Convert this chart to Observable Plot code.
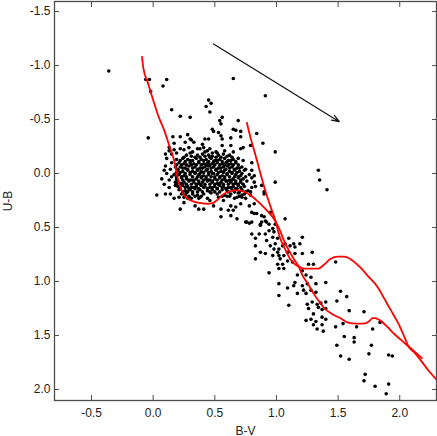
<!DOCTYPE html>
<html>
<head>
<meta charset="utf-8">
<script src="https://cdn.jsdelivr.net/npm/d3@7"></script>
<script src="https://cdn.jsdelivr.net/npm/@observablehq/plot@0.6"></script>
<style>
  html, body { margin: 0; padding: 0; background: #fff; }
  #chart { width: 437px; height: 436px; }
</style>
</head>
<body>
<div id="chart"></div>
<script>
// ---- Data (B-V, U-B) ----
const xTicks = [-0.5, 0.0, 0.5, 1.0, 1.5, 2.0];
const yTicks = [-1.5, -1.0, -0.5, 0.0, 0.5, 1.0, 1.5, 2.0];
const xLabel = "B-V";
const yLabel = "U-B";

// sparse stars in the upper part
const upperStars = [
  [-0.36,-0.95],[-0.06,-0.87],[-0.03,-0.87],[-0.02,-0.76],[-0.04,-0.33],[0.11,-0.87],[0.08,-0.81],[0.65,-0.88],[0.91,-0.72],
  [0.45,-0.68],[0.47,-0.65],[0.43,-0.62],[0.46,-0.57],[0.15,-0.59],[0.22,-0.53],[0.30,-0.52],
  [0.56,-0.52],[0.54,-0.49],[0.55,-0.46],[0.69,-0.49],
  [0.16,-0.34],[0.22,-0.34],[0.28,-0.36],[0.31,-0.31],[0.48,-0.41],[0.49,-0.39],[0.53,-0.38],[0.55,-0.35],[0.56,-0.32],
  [0.63,-0.33],[0.65,-0.41],[0.67,-0.40],[0.71,-0.39],[0.84,-0.37],[0.89,-0.28],[0.99,-0.20],
  [1.34,-0.03],[1.35,0.06],[1.41,0.15],
  [0.71,-0.34],[0.30,-0.32],[0.42,-0.32],[0.45,-0.32],[0.56,-0.26],[0.63,-0.26],[0.71,-0.23],[0.73,-0.24],[0.79,-0.26],
  [0.33,-0.29],[0.36,-0.23],[0.41,-0.24],[0.44,-0.21],[0.46,-0.23],[0.51,-0.20],[0.65,-0.20],[0.32,-0.20],[0.38,-0.23],[0.40,-0.27],
  [0.13,-0.24],[0.17,-0.28],[0.26,-0.29],[0.29,-0.24],[0.13,-0.21],[0.17,-0.22],[0.22,-0.23],[0.25,-0.22],
  [0.10,-0.18],[0.15,-0.18],[0.19,-0.19],
  [0.42,-0.20],[0.52,-0.19],[0.58,-0.21],[0.30,-0.19],[0.48,-0.19]
];

// stars left of the intrinsic line, around B-V 0.0-0.3
const leftStars = [
  [0.11,-0.14],[0.15,-0.10],[0.10,-0.07],[0.14,-0.04],[0.09,-0.03],[0.11,0.00],[0.07,0.05],[0.13,0.06],[0.15,0.03],
  [0.09,0.10],[0.13,0.13],[0.18,0.11],[0.03,0.20],[0.10,0.19],[0.14,0.19],[0.17,0.23],[0.21,0.22],[0.22,0.33],
  [0.25,0.27],[0.28,0.23]
];

// dense cluster core
const coreStars = [
  [0.27,-0.17],[0.31,-0.16],[0.36,-0.17],[0.40,-0.18],[0.45,-0.17],[0.48,-0.16],[0.53,-0.17],[0.57,-0.18],[0.62,-0.17],
  [0.19,-0.13],[0.24,-0.14],[0.28,-0.13],[0.32,-0.12],[0.35,-0.14],[0.39,-0.13],[0.43,-0.13],[0.47,-0.14],[0.50,-0.12],[0.54,-0.13],[0.58,-0.14],[0.61,-0.12],[0.65,-0.13],[0.69,-0.14],
  [0.21,-0.10],[0.25,-0.09],[0.30,-0.10],[0.33,-0.09],[0.37,-0.10],[0.41,-0.09],[0.44,-0.10],[0.48,-0.09],[0.52,-0.10],[0.56,-0.09],[0.59,-0.10],[0.63,-0.09],[0.67,-0.10],
  [0.18,-0.06],[0.22,-0.06],[0.26,-0.05],[0.29,-0.07],[0.34,-0.06],[0.38,-0.05],[0.42,-0.06],[0.45,-0.07],[0.49,-0.06],[0.53,-0.05],[0.57,-0.06],[0.60,-0.07],[0.64,-0.06],[0.68,-0.05],[0.72,-0.06],
  [0.20,-0.03],[0.24,-0.02],[0.28,-0.03],[0.32,-0.02],[0.36,-0.03],[0.39,-0.02],[0.43,-0.03],[0.47,-0.02],[0.51,-0.03],[0.55,-0.02],[0.58,-0.03],[0.62,-0.02],[0.66,-0.03],[0.70,-0.02],[0.74,-0.03],
  [0.17,0.01],[0.21,0.01],[0.25,0.02],[0.30,0.01],[0.34,0.00],[0.37,0.01],[0.41,0.02],[0.45,0.01],[0.48,0.00],[0.52,0.01],[0.56,0.02],[0.60,0.01],[0.64,0.00],[0.67,0.01],[0.71,0.02],[0.78,0.01],
  [0.19,0.05],[0.23,0.04],[0.27,0.05],[0.31,0.06],[0.35,0.05],[0.39,0.04],[0.43,0.05],[0.46,0.06],[0.50,0.05],[0.54,0.04],[0.58,0.05],[0.62,0.06],[0.65,0.05],[0.69,0.04],[0.73,0.05],
  [0.18,0.08],[0.22,0.09],[0.25,0.08],[0.29,0.07],[0.33,0.08],[0.37,0.09],[0.40,0.08],[0.44,0.07],[0.48,0.08],[0.52,0.09],[0.55,0.08],[0.59,0.07],[0.63,0.08],[0.67,0.09],[0.71,0.08],[0.76,0.07],
  [0.20,0.12],[0.24,0.11],[0.28,0.12],[0.31,0.13],[0.35,0.12],[0.39,0.11],[0.42,0.12],[0.46,0.13],[0.50,0.12],[0.54,0.11],[0.57,0.12],[0.61,0.13],[0.65,0.12],[0.69,0.11],[0.74,0.12],
  [0.21,0.15],[0.26,0.16],[0.30,0.15],[0.34,0.14],[0.38,0.15],[0.44,0.16],[0.48,0.15],[0.52,0.14],[0.56,0.15],[0.60,0.16],[0.64,0.15],[0.68,0.14],[0.72,0.15],[0.77,0.16],
  [0.23,0.19],[0.27,0.18],[0.32,0.19],[0.36,0.20],[0.41,0.19],[0.47,0.18],[0.52,0.19],[0.58,0.20],[0.63,0.19],[0.69,0.18],[0.74,0.19],
  [0.25,0.22],[0.31,0.23],[0.38,0.22],[0.44,0.23],[0.53,0.22],[0.60,0.21],[0.66,0.23],[0.72,0.22],
  [0.80,-0.03],[0.80,0.04],[0.82,0.08],[0.80,0.13],[0.83,0.12],[0.79,0.17]
];

// more core stars filling the gaps of the dense clump
const coreStars2 = [
  [0.25,-0.15],[0.34,-0.15],[0.38,-0.15],[0.42,-0.16],[0.46,-0.15],[0.51,-0.15],[0.55,-0.15],[0.60,-0.16],[0.64,-0.15],
  [0.22,-0.12],[0.26,-0.11],[0.30,-0.12],[0.37,-0.11],[0.41,-0.12],[0.45,-0.11],[0.49,-0.11],[0.52,-0.12],[0.56,-0.11],[0.60,-0.11],[0.63,-0.12],[0.67,-0.11],
  [0.19,-0.08],[0.23,-0.08],[0.27,-0.08],[0.31,-0.08],[0.35,-0.08],[0.39,-0.08],[0.43,-0.08],[0.46,-0.08],[0.50,-0.08],[0.54,-0.08],[0.58,-0.08],[0.61,-0.08],[0.65,-0.08],[0.69,-0.08],
  [0.20,-0.04],[0.24,-0.05],[0.28,-0.04],[0.32,-0.05],[0.36,-0.04],[0.40,-0.05],[0.44,-0.04],[0.47,-0.05],[0.51,-0.04],[0.55,-0.05],[0.59,-0.04],[0.62,-0.05],[0.66,-0.04],[0.70,-0.05],[0.75,-0.04],
  [0.19,-0.01],[0.22,-0.01],[0.26,0.00],[0.30,-0.01],[0.34,-0.01],[0.38,0.00],[0.41,-0.01],[0.45,-0.01],[0.49,0.00],[0.53,-0.01],[0.57,-0.01],[0.60,0.00],[0.64,-0.01],[0.68,-0.01],[0.72,0.00],
  [0.19,0.03],[0.23,0.03],[0.27,0.03],[0.32,0.03],[0.36,0.03],[0.39,0.03],[0.43,0.03],[0.47,0.03],[0.50,0.03],[0.54,0.03],[0.58,0.03],[0.62,0.03],[0.66,0.03],[0.69,0.03],[0.75,0.03],
  [0.20,0.07],[0.24,0.06],[0.29,0.06],[0.33,0.06],[0.37,0.07],[0.41,0.06],[0.45,0.06],[0.48,0.07],[0.52,0.06],[0.56,0.06],[0.60,0.07],[0.64,0.06],[0.67,0.07],[0.71,0.06],
  [0.19,0.10],[0.23,0.10],[0.27,0.10],[0.31,0.10],[0.35,0.10],[0.38,0.10],[0.42,0.10],[0.46,0.10],[0.50,0.10],[0.53,0.10],[0.57,0.10],[0.61,0.10],[0.65,0.10],[0.69,0.10],[0.73,0.10],
  [0.22,0.14],[0.26,0.13],[0.29,0.14],[0.33,0.13],[0.37,0.14],[0.41,0.13],[0.44,0.14],[0.48,0.13],[0.52,0.14],[0.56,0.13],[0.59,0.14],[0.63,0.13],[0.67,0.14],[0.71,0.13],
  [0.24,0.17],[0.28,0.17],[0.32,0.17],[0.36,0.17],[0.40,0.17],[0.46,0.17],[0.50,0.17],[0.54,0.17],[0.61,0.17],[0.66,0.17],[0.70,0.17],[0.75,0.17],
  [0.26,0.20],[0.29,0.21],[0.34,0.21],[0.39,0.21],[0.56,0.21],[0.62,0.21],[0.70,0.21]
];

// stars just below the intrinsic line in the core
const lowerCoreStars = [
  [0.34,0.30],[0.41,0.33],[0.49,0.30],[0.55,0.33],[0.63,0.30],[0.65,0.34],[0.71,0.28],[0.78,0.30],[0.80,0.36],
  [0.57,0.25],[0.46,0.25],[0.37,0.23],[0.68,0.22],[0.75,0.23],[0.79,0.20],[0.73,-0.12],[0.80,-0.10],[0.82,0.02],
  [0.37,0.33],[0.55,0.40],[0.63,0.39],[0.68,0.42],[0.82,0.37],[0.90,0.40]
];

// reddened tail toward the lower right
const tailStars = [
  [0.99,0.08],[0.88,0.11],[0.90,0.19],[0.82,0.28],[0.84,0.37],[0.95,0.36],[0.92,0.45],[0.99,0.47],[0.87,0.47],[0.75,0.45],
  [0.61,0.34],[0.67,0.31],[0.72,0.20],[0.88,0.39],[0.76,0.45],[0.78,0.46],[0.80,0.45],[0.88,0.45],[0.90,0.17],[0.91,0.44],
  [0.94,0.47],[0.87,0.48],[0.80,0.56],[0.83,0.60],[0.86,0.56],[0.91,0.56],[0.94,0.53],[0.97,0.51],[0.98,0.54],[1.07,0.42],
  [0.92,0.62],[0.97,0.59],[1.01,0.60],[0.99,0.65],[0.95,0.67],[0.98,0.70],[1.02,0.70],[1.05,0.67],[1.07,0.65],[1.10,0.60],
  [1.11,0.67],[1.14,0.65],[1.15,0.68],[1.19,0.65],[1.21,0.59],[0.83,0.67],[0.87,0.73],[0.91,0.74],[0.97,0.76],[1.01,0.73],
  [1.02,0.76],[1.06,0.76],[1.09,0.73],[1.15,0.74],[1.21,0.74],[1.29,0.73],[0.83,0.79],[1.03,0.79],
  [1.01,0.84],[1.05,0.84],[1.09,0.81],[1.13,0.82],[1.06,0.88],[0.94,0.92],[1.02,0.88],[1.26,0.84],[1.30,0.84],[1.21,0.90],
  [1.17,0.94],[1.24,0.94],[1.28,0.96],[1.02,1.02],[1.09,1.06],[1.14,1.04],[1.15,1.01],[1.21,1.04],[1.25,1.02],[1.32,1.02],
  [1.40,1.01],[1.22,1.08],[1.24,1.11],[1.28,1.08],[1.17,1.11],[1.02,1.13],[1.32,1.10],[1.25,1.21],[1.29,1.19],[1.33,1.21],
  [1.10,1.22],[1.26,1.25],[1.34,1.24],[1.37,1.26],[1.40,1.25],[1.30,1.30],[1.37,1.33],[1.24,1.36],[1.28,1.35],[1.40,1.35],
  [1.36,1.20],[1.40,1.19],[1.32,1.37],[1.30,1.40],[1.33,1.44],[1.37,1.40],[1.38,1.46],[1.49,1.18],[1.48,0.82],[1.59,1.27],
  [1.71,1.28],[1.48,1.42],[1.54,1.39],[1.65,1.42],[1.78,1.44],[1.84,1.38],[1.49,1.59],[1.55,1.51],[1.63,1.52],[1.63,1.56],
  [1.77,1.59],[1.52,1.69],[1.59,1.72],[1.75,1.67],[1.91,1.68],[1.94,1.69],[1.72,1.86],[1.71,1.92],[1.80,1.97],[1.91,1.95],
  [1.89,2.04],[1.52,1.09],[1.57,1.14]
];

// red reference curves
const curveA = [
  [-0.09,-1.08],[-0.08,-0.98],[-0.04,-0.83],[0.00,-0.68],[0.04,-0.54],[0.09,-0.40],[0.13,-0.26],[0.17,-0.12],[0.19,-0.01],
  [0.21,0.09],[0.25,0.20],[0.29,0.24],[0.33,0.26],[0.39,0.275],[0.44,0.28],[0.48,0.275],[0.52,0.245],[0.56,0.20],[0.62,0.165],[0.68,0.157],
  [0.74,0.17],[0.80,0.21],[0.86,0.27],[0.92,0.34],[0.96,0.39],[0.99,0.44],[1.03,0.53],[1.06,0.62],[1.10,0.71],[1.14,0.79],[1.18,0.86],
  [1.21,0.94],[1.26,1.03],[1.30,1.11],[1.35,1.19],[1.39,1.25],[1.45,1.30],[1.52,1.34],[1.58,1.38],[1.65,1.39],[1.71,1.39],
  [1.75,1.37],[1.78,1.34],[1.80,1.34],[1.84,1.36],[1.90,1.42],[1.95,1.48],[2.01,1.54],[2.06,1.59],[2.12,1.65],[2.18,1.71]
];
const curveB = [
  [0.76,-0.47],[0.79,-0.33],[0.83,-0.17],[0.87,0.00],[0.91,0.16],[0.95,0.30],[0.99,0.43],[1.03,0.60],[1.07,0.70],[1.11,0.79],
  [1.15,0.84],[1.18,0.86],[1.22,0.88],[1.25,0.88],[1.30,0.88],[1.34,0.88],[1.38,0.85],[1.44,0.79],[1.50,0.77],[1.55,0.77],
  [1.61,0.80],[1.68,0.87],[1.75,0.96],[1.82,1.05],[1.88,1.17],[1.93,1.27],[1.98,1.37],[2.01,1.44],[2.04,1.52],[2.07,1.60],
  [2.12,1.66],[2.17,1.73],[2.23,1.82],[2.29,1.90],[2.35,1.97]
];

// reddening vector
const arrowFrom = [0.49, -1.20];
const arrowTo = [1.51, -0.48];

// ---- Chart ----
const stars = [...upperStars, ...leftStars, ...coreStars, ...coreStars2, ...lowerCoreStars, ...tailStars];
const fmt = d => d.toFixed(1);
const grey = "#4d4d4d";

const chart = Plot.plot({
  width: 437,
  height: 436,
  marginLeft: 54,
  marginRight: 1,
  marginTop: 1,
  marginBottom: 36,
  x: {domain: [-0.8, 2.298]},
  y: {domain: [-1.593, 2.102], reverse: true},
  style: {fontFamily: "'Liberation Sans', Arial, sans-serif", fontSize: "12px", background: "#fff", color: "#222"},
  marks: [
    Plot.dot(stars, {x: d => d[0], y: d => d[1], r: 1.8, fill: "#000"}),
    Plot.line(curveA, {x: d => d[0], y: d => d[1], stroke: "#f00", strokeWidth: 1.8, curve: "monotone-x", clip: true}),
    Plot.line(curveB, {x: d => d[0], y: d => d[1], stroke: "#f00", strokeWidth: 1.8, curve: "monotone-x", clip: true}),
    Plot.arrow([{a: arrowFrom, b: arrowTo}], {x1: d => d.a[0], y1: d => d.a[1], x2: d => d.b[0], y2: d => d.b[1], stroke: "#111", strokeWidth: 1.2, headLength: 10, headAngle: 40}),
    Plot.frame({stroke: grey, strokeWidth: 1.3}),
    Plot.axisX({anchor: "bottom", ticks: xTicks, tickFormat: fmt, tickSize: -5, tickPadding: 13, stroke: grey, fill: "#222",
      label: xLabel, labelAnchor: "center", labelOffset: 34, labelArrow: "none"}),
    Plot.axisX({anchor: "top", ticks: xTicks, tickFormat: () => "", tickSize: -5, stroke: grey, label: null}),
    Plot.axisY({anchor: "left", ticks: yTicks, tickFormat: fmt, tickSize: -5, tickPadding: 9, stroke: grey, fill: "#222",
      label: yLabel, labelAnchor: "center", labelOffset: 51, labelArrow: "none"}),
    Plot.axisY({anchor: "right", ticks: yTicks, tickFormat: () => "", tickSize: -5, stroke: grey, label: null})
  ]
});
document.getElementById("chart").appendChild(chart);
</script>
</body>
</html>
